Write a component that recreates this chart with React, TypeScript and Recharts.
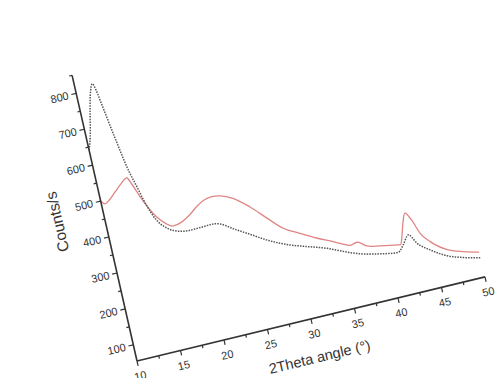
import React from 'react';
import { LineChart, Line, XAxis, YAxis, Label } from 'recharts';

const redAngles = [10.0, 10.4, 11.0, 11.8, 12.6, 13.4, 13.8, 14.4, 15.7, 16.6, 17.3, 18.2, 19.3, 20.3, 21.2, 22.2, 23.1, 24.5, 26.1, 27.7, 29.2, 30.9, 32.6, 34.3, 35.7, 36.1, 36.9, 37.9, 39.3, 41.3, 41.6, 41.9, 42.4, 42.85, 43.4, 44.0, 44.9, 46.5, 48.3, 50.0];
const redCounts = [500, 490, 498, 515, 532, 545, 526, 487, 423, 398, 388, 392, 406, 424, 436, 441, 438, 423, 390, 349, 312, 288, 265, 245, 228, 224, 228, 212, 204, 195, 194, 211, 250, 274, 252, 212, 183, 152, 135, 124];

const blackAngles = [10.0, 10.45, 11.1, 11.6, 12.0, 12.25, 12.55, 13.1, 13.7, 14.3, 14.7, 15.6, 16.4, 17.2, 19.0, 20.5, 21.5, 22.4, 23.8, 25.4, 27.1, 29.5, 31.3, 33.5, 35.9, 37.3, 39.1, 41.15, 41.9, 42.7, 43.4, 44.7, 46.4, 48.1, 50.0];
const blackCounts = [642, 676, 747, 795, 815, 795, 748, 661, 574, 515, 476, 415, 390, 376, 366, 367, 368, 364, 342, 318, 292, 264, 249, 231, 205, 193, 183, 175, 192, 215, 188, 161, 135, 120, 108];

const xTicks = [10, 12.5, 15, 17.5, 20, 22.5, 25, 27.5, 30, 32.5, 35, 37.5, 40, 42.5, 45, 47.5, 50];
const yTicks = [100, 150, 200, 250, 300, 350, 400, 450, 500, 550, 600, 650, 700, 750, 800, 850];

const redData = redAngles.map((x, i) => ({ x, y: redCounts[i] }));
const blackData = blackAngles.map((x, i) => ({ x, y: blackCounts[i] }));

const FONT = '"Liberation Sans", Arial, sans-serif';
const INK = '#333';

const XTick = (props: any) => {
  const { x, y, payload } = props;
  const major = payload.value % 5 === 0;
  return (
    <g>
      <line x1={x} y1={y} x2={x} y2={y + (major ? 5 : 3)} stroke={INK} strokeWidth={1.2} />
      {major && (
        <text x={x} y={y + 19} textAnchor="middle" fontSize={11} fontFamily={FONT} fill={INK}>
          {payload.value}
        </text>
      )}
    </g>
  );
};

const YTick = (props: any) => {
  const { x, y, payload } = props;
  const major = payload.value % 100 === 0;
  return (
    <g>
      <line x1={x - (major ? 5 : 3)} y1={y} x2={x} y2={y} stroke={INK} strokeWidth={1.2} />
      {major && (
        <text x={x - 8} y={y + 4} textAnchor="end" fontSize={11} fontFamily={FONT} fill={INK}>
          {payload.value}
        </text>
      )}
    </g>
  );
};

export default function App() {
  return (
    <div style={{ position: 'absolute', left: 0, top: 0, width: 497, height: 378, overflow: 'hidden', background: '#fff' }}>
      <div
        style={{
          position: 'absolute',
          left: 67,
          top: 58,
          width: 448,
          height: 363,
          transformOrigin: '70px 303px',
          transform: 'matrix(0.972, -0.235, 0.2215, 0.975, 0, 0)',
        }}
      >
        <LineChart width={448} height={363} margin={{ top: 10, right: 20, left: 0, bottom: 0 }}>
          <XAxis
            type="number"
            dataKey="x"
            domain={[10, 50]}
            ticks={xTicks}
            interval={0}
            allowDataOverflow
            tickSize={0}
            tickMargin={0}
            tickLine={false}
            tick={<XTick />}
            height={60}
            axisLine={{ stroke: INK, strokeWidth: 1.6 }}
          >
            <Label
              content={(p: any) => {
                const vb = p.viewBox || {};
                return (
                  <text x={vb.x + vb.width / 2} y={vb.y + 44} textAnchor="middle" fontSize={14.5} fontFamily={FONT} fill={INK}>
                    2Theta angle (°)
                  </text>
                );
              }}
            />
          </XAxis>
          <YAxis
            type="number"
            dataKey="y"
            domain={[55, 850]}
            ticks={yTicks}
            interval={0}
            allowDataOverflow
            tickSize={0}
            tickMargin={0}
            tickLine={false}
            tick={<YTick />}
            width={70}
            axisLine={{ stroke: INK, strokeWidth: 1.6 }}
          >
            <Label
              content={(p: any) => {
                const vb = p.viewBox || {};
                const cx = vb.x + vb.width - 47;
                const cy = 149;
                return (
                  <text x={cx} y={cy} textAnchor="middle" dominantBaseline="central" transform={`rotate(-90 ${cx} ${cy})`} fontSize={15.5} fontFamily={FONT} fill={INK}>
                    Counts/s
                  </text>
                );
              }}
            />
          </YAxis>
          <Line data={redData} dataKey="y" type="monotone" stroke="#e08585" strokeWidth={1.3} dot={false} isAnimationActive={false} />
          <Line data={blackData} dataKey="y" type="monotone" stroke="#555" strokeWidth={1.5} strokeDasharray="1.5 1.2" dot={false} isAnimationActive={false} />
        </LineChart>
      </div>
    </div>
  );
}
